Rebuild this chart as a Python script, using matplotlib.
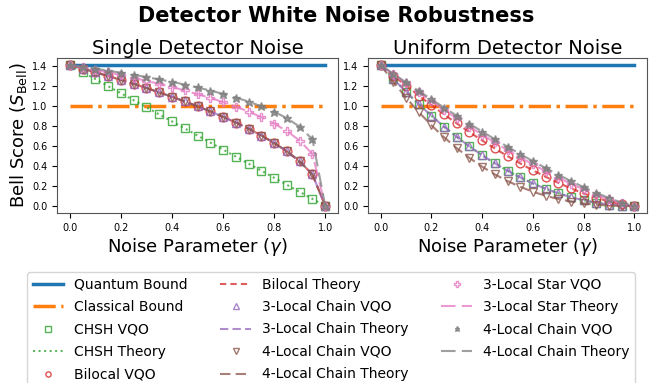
import matplotlib
matplotlib.use("Agg")
import matplotlib.pyplot as plt

gamma = [0.00, 0.05, 0.10, 0.15, 0.20, 0.25, 0.30, 0.35, 0.40, 0.45, 0.50,
         0.55, 0.60, 0.65, 0.70, 0.75, 0.80, 0.85, 0.90, 0.95, 1.00]

quantum_bound = 1.414
classical_bound = 1.0

# Single detector noise
single_chsh = [1.414, 1.343, 1.273, 1.202, 1.131, 1.061, 0.990, 0.919, 0.849, 0.778, 0.707,
               0.636, 0.566, 0.495, 0.424, 0.354, 0.283, 0.212, 0.141, 0.071, 0.000]
single_bilocal = [1.414, 1.378, 1.342, 1.304, 1.265, 1.225, 1.183, 1.140, 1.095, 1.049, 1.000,
                  0.949, 0.894, 0.837, 0.775, 0.707, 0.632, 0.548, 0.447, 0.316, 0.000]
single_3chain = [1.414, 1.378, 1.342, 1.304, 1.265, 1.225, 1.183, 1.140, 1.095, 1.049, 1.000,
                 0.949, 0.894, 0.837, 0.775, 0.707, 0.632, 0.548, 0.447, 0.316, 0.000]
single_4chain = [1.414, 1.378, 1.342, 1.304, 1.265, 1.225, 1.183, 1.140, 1.095, 1.049, 1.000,
                 0.949, 0.894, 0.837, 0.775, 0.707, 0.632, 0.548, 0.447, 0.316, 0.000]
single_3star = [1.414, 1.390, 1.365, 1.340, 1.313, 1.285, 1.256, 1.225, 1.193, 1.159, 1.122,
                1.084, 1.042, 0.997, 0.947, 0.891, 0.827, 0.751, 0.656, 0.521, 0.000]
single_4star = [1.414, 1.396, 1.377, 1.358, 1.337, 1.316, 1.293, 1.270, 1.245, 1.218, 1.189,
                1.158, 1.125, 1.088, 1.047, 1.000, 0.946, 0.880, 0.795, 0.669, 0.000]

# Uniform detector noise
uniform_chsh = [1.414, 1.276, 1.145, 1.022, 0.905, 0.795, 0.693, 0.597, 0.509, 0.428, 0.354,
                0.286, 0.226, 0.173, 0.127, 0.088, 0.057, 0.032, 0.014, 0.004, 0.000]
uniform_bilocal = [1.414, 1.309, 1.207, 1.108, 1.012, 0.918, 0.828, 0.741, 0.657, 0.577, 0.500,
                   0.427, 0.358, 0.293, 0.232, 0.177, 0.126, 0.082, 0.045, 0.016, 0.000]
uniform_3chain = [1.414, 1.276, 1.145, 1.022, 0.905, 0.795, 0.693, 0.597, 0.509, 0.428, 0.354,
                  0.286, 0.226, 0.173, 0.127, 0.088, 0.057, 0.032, 0.014, 0.004, 0.000]
uniform_4chain = [1.414, 1.244, 1.087, 0.942, 0.809, 0.689, 0.580, 0.482, 0.394, 0.317, 0.250,
                  0.192, 0.143, 0.102, 0.070, 0.044, 0.025, 0.012, 0.004, 0.001, 0.000]
uniform_3star = [1.414, 1.321, 1.229, 1.139, 1.050, 0.964, 0.879, 0.796, 0.716, 0.637, 0.561,
                 0.488, 0.417, 0.349, 0.284, 0.223, 0.165, 0.113, 0.066, 0.026, 0.000]
uniform_4star = [1.414, 1.326, 1.240, 1.154, 1.070, 0.987, 0.905, 0.825, 0.747, 0.670, 0.595,
                 0.521, 0.450, 0.381, 0.314, 0.250, 0.189, 0.132, 0.080, 0.033, 0.000]

series_names = ["CHSH", "Bilocal", "3-Local Chain", "4-Local Chain", "3-Local Star", "4-Local Chain"]
single_data = [single_chsh, single_bilocal, single_3chain, single_4chain, single_3star, single_4star]
uniform_data = [uniform_chsh, uniform_bilocal, uniform_3chain, uniform_4chain, uniform_3star, uniform_4star]

colors = ["tab:green", "tab:red", "tab:purple", "tab:brown", "tab:pink", "tab:gray"]
markers = ["s", "o", "^", "v", "P", "*"]
linestyles = [":", (0, (3, 2)), (0, (4, 2)), (0, (5, 2.5)), (0, (7, 3)), (0, (7, 3))]
fill = ["none", "none", "none", "none", "none", "full"]

fig = plt.figure(figsize=(6.72, 3.83), dpi=100)
ax1 = fig.add_axes([57/672, 1 - 213/383, 281/672, 155/383])
ax2 = fig.add_axes([368/672, 1 - 213/383, 279/672, 155/383])

for ax, data, title in [(ax1, single_data, "Single Detector Noise"),
                        (ax2, uniform_data, "Uniform Detector Noise")]:
    ax.plot(gamma, [quantum_bound] * len(gamma), color="tab:blue", lw=2.5, label="Quantum Bound")
    ax.plot(gamma, [classical_bound] * len(gamma), color="tab:orange", lw=2.5, ls="-.",
            label="Classical Bound")
    for name, vals, c, m, ls, fs in zip(series_names, data, colors, markers, linestyles, fill):
        ax.plot(gamma, vals, ls="none", marker=m, markersize=6.3, color=c, fillstyle=fs,
                markeredgewidth=1.0, alpha=0.8, label=f"{name} VQO")
        ax.plot(gamma, vals, ls=ls, color=c, lw=1.5, alpha=0.75, label=f"{name} Theory")
    ax.set_title(title, fontsize=14, pad=3)
    ax.set_xlabel(r"Noise Parameter ($\gamma$)", fontsize=13, labelpad=2)
    ax.set_xticks([0.0, 0.2, 0.4, 0.6, 0.8, 1.0])
    ax.set_yticks([0.0, 0.2, 0.4, 0.6, 0.8, 1.0, 1.2, 1.4])
    ax.tick_params(labelsize=7)
    for s in ax.spines.values():
        s.set_color("#555555")

ax1.set_ylabel(r"Bell Score ($S_{\rm Bell}$)", fontsize=13, labelpad=2)
fig.suptitle("Detector White Noise Robustness", fontsize=15, fontweight="bold", y=0.985)

handles, labels = ax1.get_legend_handles_labels()
fig.legend(handles, labels, ncol=3, fontsize=10, markerscale=0.6,
           loc="upper left", bbox_to_anchor=(20/672, 1 - 265/383), frameon=True,
           columnspacing=2.35, labelspacing=0.61, handlelength=2.2)

fig.savefig("out.png", dpi=100)
